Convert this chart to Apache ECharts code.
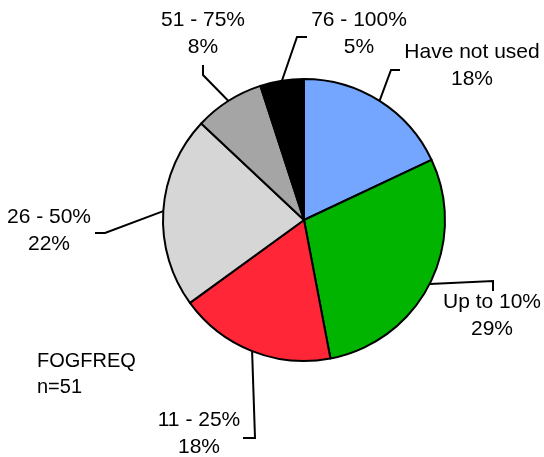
<!DOCTYPE html>
<html>
<head>
<meta charset="utf-8">
<script src="https://cdn.jsdelivr.net/npm/echarts@6/dist/echarts.min.js"></script>
<style>html,body{margin:0;padding:0;background:#fff;}#c{width:544px;height:457px;}</style>
</head>
<body>
<div id="c"></div>
<script>
var categories = ['Have not used', 'Up to 10%', '11 - 25%', '26 - 50%', '51 - 75%', '76 - 100%'];
var percents = [18, 29, 18, 22, 8, 5];
var colors = ['#74A6FF', '#00B400', '#FF2737', '#D6D6D6', '#A5A5A5', '#000000'];

// label anchor (center of the two-line label) and leader-line elbow/end per slice
var labelPos = [[472, 66], [492, 316], [199, 434], [49, 231], [203, 34], [359, 34]];
var lineElbow = [[[391, 70], [400, 70]], [[493, 281], [493, 291]], [[255, 438], [243, 438]],
                 [[105, 233], [95, 233]], [[203, 75], [203, 65]], [[297, 37], [307, 37]]];

var chart = echarts.init(document.getElementById('c'), null, {renderer: 'canvas'});
chart.setOption({
  animation: false,
  backgroundColor: '#fff',
  title: {
    text: 'FOGFREQ\nn=51',
    left: 32, top: 343,
    textStyle: {fontFamily: 'Liberation Sans', fontSize: 20, fontWeight: 'normal', color: '#000', lineHeight: 26}
  },
  series: [{
    type: 'pie',
    center: [304, 220],
    radius: 141,
    startAngle: 90,
    clockwise: true,
    avoidLabelOverlap: false,
    data: categories.map(function (c, i) {
      return {name: c, value: percents[i], itemStyle: {color: colors[i]}};
    }),
    itemStyle: {borderColor: '#000', borderWidth: 2},
    label: {
      show: true,
      position: 'outside',
      formatter: function (p) { return p.name + '\n' + p.value + '%'; },
      fontFamily: 'Liberation Sans',
      fontSize: 21,
      lineHeight: 27,
      color: '#000',
      align: 'center'
    },
    labelLine: {show: true, lineStyle: {color: '#000', width: 2}},
    emphasis: {disabled: true},
    labelLayout: function (params) {
      var i = params.dataIndex;
      var start = params.labelLinePoints ? params.labelLinePoints[0] : lineElbow[i][0];
      return {
        x: labelPos[i][0],
        y: labelPos[i][1],
        align: 'center',
        verticalAlign: 'middle',
        labelLinePoints: [start, lineElbow[i][0], lineElbow[i][1]]
      };
    }
  }]
});
</script>
</body>
</html>
